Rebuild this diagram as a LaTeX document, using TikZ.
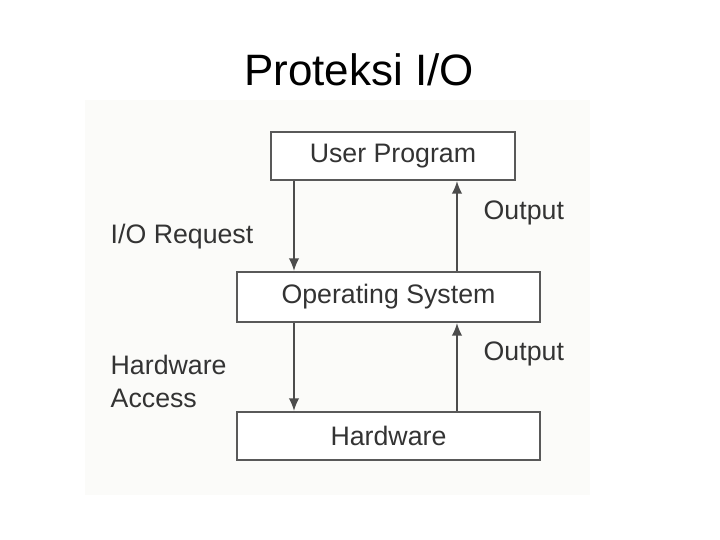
\documentclass[tikz,border=0pt]{standalone}
\usepackage{fontspec}
\setmainfont{Liberation Sans}
\usetikzlibrary{arrows.meta}
\usetikzlibrary{positioning}

\definecolor{panel}{RGB}{251,251,249}

\tikzset{
  layer/.style={draw=black!65, line width=0.6pt, fill=white, inner sep=0pt,
    font=\fontsize{7.6}{9.4}\selectfont, text=black!80},
  arr/.style={draw=black!70, line width=0.45pt, -{Latex[length=3.6pt,width=3pt]}},
  lbl/.style={font=\fontsize{7.6}{9.4}\selectfont, text=black!80, inner sep=0pt, anchor=west, align=left}
}

\begin{document}
\begin{tikzpicture}[x=0.01cm, y=-0.01cm]
      \useasboundingbox (0,0) rectangle (720,540);

      % Title
      \node[font=\fontsize{12.5}{14}\selectfont] (title) at (359,70) {Proteksi I/O};

      % Light panel behind the diagram
      \fill[panel] (85,100) rectangle (590,495);

      % Layers
      \node[layer, minimum width=2.44cm, minimum height=0.48cm] (user) at (393,156) {User Program};
      \node[layer, minimum width=3.03cm, minimum height=0.50cm] (os) at (388.5,297) {Operating System};
      \node[layer, minimum width=3.03cm, minimum height=0.48cm] (hw) at (388.5,436) {Hardware};

      % Columns of the arrows
      \coordinate (dn) at (294,0);
      \coordinate (up) at (457,0);

      % Requests go down
      \draw[arr] (user.south -| dn) -- (os.north -| dn);
      \draw[arr] (os.south -| dn) -- (hw.north -| dn);

      % Output comes back up
      \draw[arr] (os.north -| up) -- (user.south -| up);
      \draw[arr] (hw.north -| up) -- (os.south -| up);

      % Labels
      \node[lbl] (req) at (110,237) {I/O Request};
      \node[lbl] (acc) at (110,381) {Hardware\\Access};
      \node[lbl] (out1) at (483,213) {Output};
      \node[lbl] (out2) at (483,354) {Output};
\end{tikzpicture}
\end{document}
